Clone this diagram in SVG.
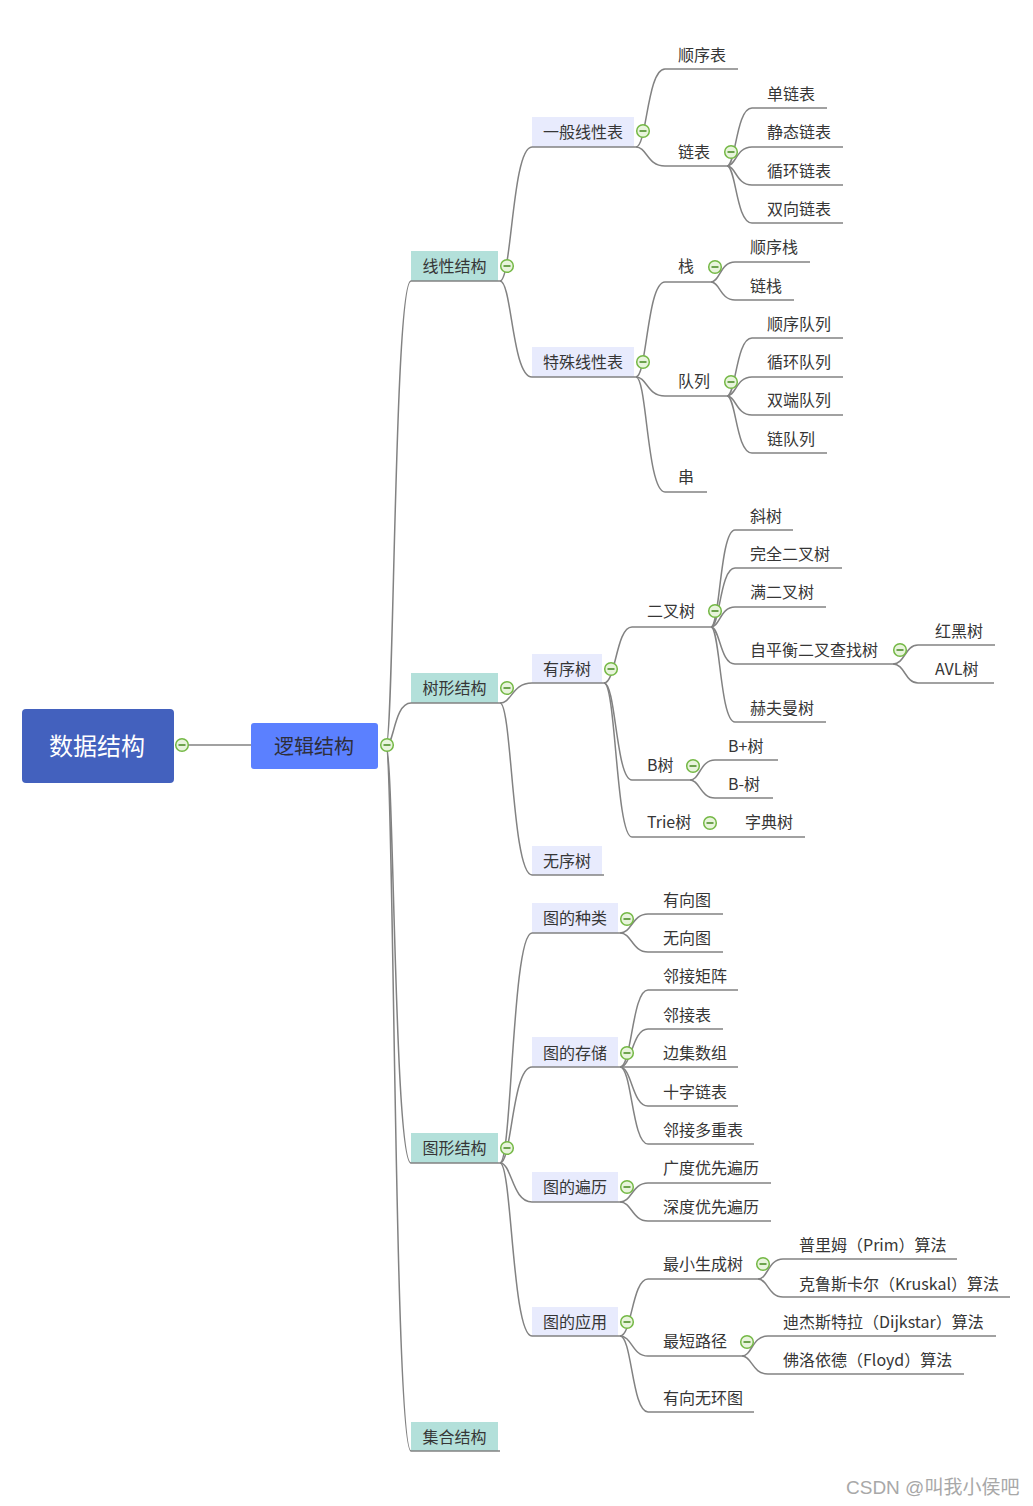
<svg xmlns="http://www.w3.org/2000/svg" width="1033" height="1506" viewBox="0 0 1033 1506">
  <style>
    .t { font-family: "Noto Sans CJK SC", "Microsoft YaHei", sans-serif; font-size: 16px; fill: #363636; dominant-baseline: central; transform: translateY(-1px); }
    .m { text-anchor: middle; }
    .c { fill: none; stroke: #828282; stroke-width: 1.5; }
    .ul { stroke: #828282; stroke-width: 1.5; }
    .b1 { fill: #b3e0da; }
    .b2 { fill: #e8ebfd; }
    .wm { font-family: "Liberation Sans", "Noto Sans CJK SC", sans-serif; font-size: 19px; fill: #a8a8a8; dominant-baseline: central; }
  </style>
  <defs>
    <g id="toggle">
      <circle r="6.3" fill="#e8f4dc" stroke="#74b845" stroke-width="1.5"/>
      <line x1="-3.5" y1="0" x2="3.5" y2="0" stroke="#4e8f2b" stroke-width="1.6"/>
    </g>
  </defs>

  <rect width="1033" height="1506" fill="#ffffff"/>

  <!-- curved branch connectors: parent anchor -> child underline start -->
  <g id="connectors">
    <line class="c" x1="175" y1="745" x2="251" y2="745"/>
    <!-- 逻辑结构 -->
    <path class="c" d="M386 746 C394 746 394 281 411 281"/>
    <path class="c" d="M386 746 C394 746 394 703 411 703"/>
    <path class="c" d="M386 746 C394 746 394 1163 411 1163"/>
    <path class="c" d="M386 746 C394 746 394 1451 411 1451"/>
    <!-- 线性结构 -->
    <path class="c" d="M500 281 C512 281 512 147 532 147"/>
    <path class="c" d="M500 281 C512 281 512 377 532 377"/>
    <!-- 一般线性表 -->
    <path class="c" d="M636 147 C647 147 647 69 665 69"/>
    <path class="c" d="M636 147 C647 147 647 166 665 166"/>
    <!-- 链表 -->
    <path class="c" d="M727 166 C736 166 736 108 752 108"/>
    <path class="c" d="M727 166 C736 166 736 147 752 147"/>
    <path class="c" d="M727 166 C736 166 736 185 752 185"/>
    <path class="c" d="M727 166 C736 166 736 223 752 223"/>
    <!-- 特殊线性表 -->
    <path class="c" d="M636 377 C647 377 647 282 665 282"/>
    <path class="c" d="M636 377 C647 377 647 396 665 396"/>
    <path class="c" d="M636 377 C647 377 647 492 665 492"/>
    <!-- 栈 -->
    <path class="c" d="M711 282 C720 282 720 262 735 262"/>
    <path class="c" d="M711 282 C720 282 720 300 735 300"/>
    <!-- 队列 -->
    <path class="c" d="M727 396 C736 396 736 338 752 338"/>
    <path class="c" d="M727 396 C736 396 736 377 752 377"/>
    <path class="c" d="M727 396 C736 396 736 415 752 415"/>
    <path class="c" d="M727 396 C736 396 736 453 752 453"/>
    <!-- 树形结构 -->
    <path class="c" d="M500 703 C512 703 512 683 532 683"/>
    <path class="c" d="M500 703 C512 703 512 875 532 875"/>
    <!-- 有序树 -->
    <path class="c" d="M604 683 C616 683 616 627 632 627"/>
    <path class="c" d="M604 683 C616 683 616 780 632 780"/>
    <path class="c" d="M604 683 C616 683 616 837 632 837"/>
    <!-- 二叉树 -->
    <path class="c" d="M711 627 C720 627 720 530 735 530"/>
    <path class="c" d="M711 627 C720 627 720 568 735 568"/>
    <path class="c" d="M711 627 C720 627 720 607 735 607"/>
    <path class="c" d="M711 627 C720 627 720 664 735 664"/>
    <path class="c" d="M711 627 C720 627 720 722 735 722"/>
    <!-- 自平衡二叉查找树 -->
    <path class="c" d="M893 664 C905 664 905 645 918 645"/>
    <path class="c" d="M893 664 C905 664 905 683 918 683"/>
    <!-- B树 -->
    <path class="c" d="M690 780 C700 780 700 760 715 760"/>
    <path class="c" d="M690 780 C700 780 700 798 715 798"/>
    <!-- Trie树 -->
    <line class="c" x1="706" y1="837" x2="730" y2="837"/>
    <!-- 图形结构 -->
    <path class="c" d="M500 1163 C512 1163 512 933 532 933"/>
    <path class="c" d="M500 1163 C512 1163 512 1067 532 1067"/>
    <path class="c" d="M500 1163 C512 1163 512 1202 532 1202"/>
    <path class="c" d="M500 1163 C512 1163 512 1336 532 1336"/>
    <!-- 图的种类 -->
    <path class="c" d="M620 933 C632 933 632 914 648 914"/>
    <path class="c" d="M620 933 C632 933 632 952 648 952"/>
    <!-- 图的存储 -->
    <path class="c" d="M620 1067 C632 1067 632 990 648 990"/>
    <path class="c" d="M620 1067 C632 1067 632 1029 648 1029"/>
    <path class="c" d="M620 1067 C632 1067 632 1067 648 1067"/>
    <path class="c" d="M620 1067 C632 1067 632 1106 648 1106"/>
    <path class="c" d="M620 1067 C632 1067 632 1144 648 1144"/>
    <!-- 图的遍历 -->
    <path class="c" d="M620 1202 C632 1202 632 1183 648 1183"/>
    <path class="c" d="M620 1202 C632 1202 632 1221 648 1221"/>
    <!-- 图的应用 -->
    <path class="c" d="M620 1336 C632 1336 632 1279 648 1279"/>
    <path class="c" d="M620 1336 C632 1336 632 1356 648 1356"/>
    <path class="c" d="M620 1336 C632 1336 632 1412 648 1412"/>
    <!-- 最小生成树 -->
    <path class="c" d="M758 1279 C768 1279 768 1259 783 1259"/>
    <path class="c" d="M758 1279 C768 1279 768 1297 783 1297"/>
    <!-- 最短路径 -->
    <path class="c" d="M742 1356 C752 1356 752 1336 768 1336"/>
    <path class="c" d="M742 1356 C752 1356 752 1374 768 1374"/>
  </g>

  <!-- central topic -->
  <g id="n-root">
    <rect x="22" y="709" width="152" height="74" rx="4" fill="#4361be"/>
    <text class="t m" x="97" y="745" style="font-size:24px;fill:#ffffff">数据结构</text>
    <use href="#toggle" x="182" y="745"/>
  </g>
  <g id="n-logic">
    <rect x="251" y="723" width="127" height="46" rx="3" fill="#5b80ff"/>
    <text class="t m" x="314" y="746" style="font-size:20px;fill:#2e2e3a">逻辑结构</text>
    <use href="#toggle" x="387" y="745"/>
  </g>

  <!-- 线性结构 branch -->
  <g id="n-linear">
    <rect class="b1" x="411" y="251" width="87" height="30"/>
    <line class="ul" x1="411" y1="281" x2="500" y2="281"/>
    <text class="t m" x="454.5" y="266">线性结构</text>
    <use href="#toggle" x="507" y="266"/>
  </g>
  <g id="n-general-list">
    <rect class="b2" x="532" y="117" width="102" height="30"/>
    <line class="ul" x1="532" y1="147" x2="636" y2="147"/>
    <text class="t m" x="583" y="132">一般线性表</text>
    <use href="#toggle" x="643" y="131"/>
  </g>
  <g id="n-seq-list">
    <line class="ul" x1="665" y1="69" x2="738" y2="69"/>
    <text class="t" x="678" y="55">顺序表</text>
  </g>
  <g id="n-linked-list">
    <line class="ul" x1="665" y1="166" x2="727" y2="166"/>
    <text class="t" x="678" y="152">链表</text>
    <use href="#toggle" x="731" y="152"/>
  </g>
  <g id="n-single-ll">
    <line class="ul" x1="752" y1="108" x2="827" y2="108"/>
    <text class="t" x="767" y="94">单链表</text>
  </g>
  <g id="n-static-ll">
    <line class="ul" x1="752" y1="147" x2="843" y2="147"/>
    <text class="t" x="767" y="132">静态链表</text>
  </g>
  <g id="n-circular-ll">
    <line class="ul" x1="752" y1="185" x2="843" y2="185"/>
    <text class="t" x="767" y="171">循环链表</text>
  </g>
  <g id="n-double-ll">
    <line class="ul" x1="752" y1="223" x2="843" y2="223"/>
    <text class="t" x="767" y="209">双向链表</text>
  </g>
  <g id="n-special-list">
    <rect class="b2" x="532" y="347" width="102" height="30"/>
    <line class="ul" x1="532" y1="377" x2="636" y2="377"/>
    <text class="t m" x="583" y="362">特殊线性表</text>
    <use href="#toggle" x="643" y="362"/>
  </g>
  <g id="n-stack">
    <line class="ul" x1="665" y1="282" x2="711" y2="282"/>
    <text class="t" x="678" y="266">栈</text>
    <use href="#toggle" x="715" y="267"/>
  </g>
  <g id="n-seq-stack">
    <line class="ul" x1="735" y1="262" x2="810" y2="262"/>
    <text class="t" x="750" y="247">顺序栈</text>
  </g>
  <g id="n-linked-stack">
    <line class="ul" x1="735" y1="300" x2="794" y2="300"/>
    <text class="t" x="750" y="286">链栈</text>
  </g>
  <g id="n-queue">
    <line class="ul" x1="665" y1="396" x2="727" y2="396"/>
    <text class="t" x="678" y="381">队列</text>
    <use href="#toggle" x="731" y="382"/>
  </g>
  <g id="n-seq-queue">
    <line class="ul" x1="752" y1="338" x2="843" y2="338"/>
    <text class="t" x="767" y="324">顺序队列</text>
  </g>
  <g id="n-circular-queue">
    <line class="ul" x1="752" y1="377" x2="843" y2="377"/>
    <text class="t" x="767" y="362">循环队列</text>
  </g>
  <g id="n-deque">
    <line class="ul" x1="752" y1="415" x2="843" y2="415"/>
    <text class="t" x="767" y="400">双端队列</text>
  </g>
  <g id="n-linked-queue">
    <line class="ul" x1="752" y1="453" x2="827" y2="453"/>
    <text class="t" x="767" y="439">链队列</text>
  </g>
  <g id="n-string">
    <line class="ul" x1="665" y1="492" x2="707" y2="492"/>
    <text class="t" x="678" y="477">串</text>
  </g>

  <!-- 树形结构 branch -->
  <g id="n-tree">
    <rect class="b1" x="411" y="673" width="87" height="30"/>
    <line class="ul" x1="411" y1="703" x2="500" y2="703"/>
    <text class="t m" x="454.5" y="688">树形结构</text>
    <use href="#toggle" x="507" y="688"/>
  </g>
  <g id="n-ordered-tree">
    <rect class="b2" x="532" y="654" width="70" height="29"/>
    <line class="ul" x1="532" y1="683" x2="604" y2="683"/>
    <text class="t m" x="567" y="669">有序树</text>
    <use href="#toggle" x="611" y="669"/>
  </g>
  <g id="n-binary-tree">
    <line class="ul" x1="632" y1="627" x2="711" y2="627"/>
    <text class="t" x="647" y="611">二叉树</text>
    <use href="#toggle" x="715" y="611"/>
  </g>
  <g id="n-skew-tree">
    <line class="ul" x1="735" y1="530" x2="793" y2="530"/>
    <text class="t" x="750" y="516">斜树</text>
  </g>
  <g id="n-complete-bt">
    <line class="ul" x1="735" y1="568" x2="842" y2="568"/>
    <text class="t" x="750" y="554">完全二叉树</text>
  </g>
  <g id="n-full-bt">
    <line class="ul" x1="735" y1="607" x2="826" y2="607"/>
    <text class="t" x="750" y="592">满二叉树</text>
  </g>
  <g id="n-balanced-bst">
    <line class="ul" x1="735" y1="664" x2="893" y2="664"/>
    <text class="t" x="750" y="650">自平衡二叉查找树</text>
    <use href="#toggle" x="900" y="650"/>
  </g>
  <g id="n-rb-tree">
    <line class="ul" x1="918" y1="645" x2="995" y2="645"/>
    <text class="t" x="935" y="631">红黑树</text>
  </g>
  <g id="n-avl-tree">
    <line class="ul" x1="918" y1="683" x2="994" y2="683"/>
    <text class="t" x="935" y="669">AVL树</text>
  </g>
  <g id="n-huffman-tree">
    <line class="ul" x1="735" y1="722" x2="826" y2="722"/>
    <text class="t" x="750" y="708">赫夫曼树</text>
  </g>
  <g id="n-b-tree">
    <line class="ul" x1="632" y1="780" x2="690" y2="780"/>
    <text class="t" x="647" y="765">B树</text>
    <use href="#toggle" x="693" y="766"/>
  </g>
  <g id="n-bplus-tree">
    <line class="ul" x1="715" y1="760" x2="778" y2="760"/>
    <text class="t" x="728" y="746">B+树</text>
  </g>
  <g id="n-bminus-tree">
    <line class="ul" x1="715" y1="798" x2="773" y2="798"/>
    <text class="t" x="728" y="784">B-树</text>
  </g>
  <g id="n-trie">
    <line class="ul" x1="632" y1="837" x2="706" y2="837"/>
    <text class="t" x="647" y="822">Trie树</text>
    <use href="#toggle" x="710" y="823"/>
  </g>
  <g id="n-dict-tree">
    <line class="ul" x1="730" y1="837" x2="805" y2="837"/>
    <text class="t" x="745" y="822">字典树</text>
  </g>
  <g id="n-unordered-tree">
    <rect class="b2" x="532" y="846" width="70" height="29"/>
    <line class="ul" x1="532" y1="875" x2="604" y2="875"/>
    <text class="t m" x="567" y="861">无序树</text>
  </g>

  <!-- 图形结构 branch -->
  <g id="n-graph">
    <rect class="b1" x="411" y="1133" width="87" height="30"/>
    <line class="ul" x1="411" y1="1163" x2="500" y2="1163"/>
    <text class="t m" x="454.5" y="1148">图形结构</text>
    <use href="#toggle" x="507" y="1148"/>
  </g>
  <g id="n-graph-kinds">
    <rect class="b2" x="532" y="903" width="86" height="30"/>
    <line class="ul" x1="532" y1="933" x2="620" y2="933"/>
    <text class="t m" x="575" y="918">图的种类</text>
    <use href="#toggle" x="627" y="919"/>
  </g>
  <g id="n-directed">
    <line class="ul" x1="648" y1="914" x2="723" y2="914"/>
    <text class="t" x="663" y="900">有向图</text>
  </g>
  <g id="n-undirected">
    <line class="ul" x1="648" y1="952" x2="723" y2="952"/>
    <text class="t" x="663" y="938">无向图</text>
  </g>
  <g id="n-graph-storage">
    <rect class="b2" x="532" y="1037" width="86" height="30"/>
    <line class="ul" x1="532" y1="1067" x2="620" y2="1067"/>
    <text class="t m" x="575" y="1053">图的存储</text>
    <use href="#toggle" x="627" y="1053"/>
  </g>
  <g id="n-adj-matrix">
    <line class="ul" x1="648" y1="990" x2="738" y2="990"/>
    <text class="t" x="663" y="976">邻接矩阵</text>
  </g>
  <g id="n-adj-list">
    <line class="ul" x1="648" y1="1029" x2="723" y2="1029"/>
    <text class="t" x="663" y="1015">邻接表</text>
  </g>
  <g id="n-edge-array">
    <line class="ul" x1="648" y1="1067" x2="738" y2="1067"/>
    <text class="t" x="663" y="1053">边集数组</text>
  </g>
  <g id="n-orthogonal-list">
    <line class="ul" x1="648" y1="1106" x2="738" y2="1106"/>
    <text class="t" x="663" y="1092">十字链表</text>
  </g>
  <g id="n-adj-multilist">
    <line class="ul" x1="648" y1="1144" x2="754" y2="1144"/>
    <text class="t" x="663" y="1130">邻接多重表</text>
  </g>
  <g id="n-graph-traversal">
    <rect class="b2" x="532" y="1172" width="86" height="30"/>
    <line class="ul" x1="532" y1="1202" x2="620" y2="1202"/>
    <text class="t m" x="575" y="1187">图的遍历</text>
    <use href="#toggle" x="627" y="1187"/>
  </g>
  <g id="n-bfs">
    <line class="ul" x1="648" y1="1183" x2="771" y2="1183"/>
    <text class="t" x="663" y="1168">广度优先遍历</text>
  </g>
  <g id="n-dfs">
    <line class="ul" x1="648" y1="1221" x2="771" y2="1221"/>
    <text class="t" x="663" y="1207">深度优先遍历</text>
  </g>
  <g id="n-graph-apps">
    <rect class="b2" x="532" y="1307" width="86" height="29"/>
    <line class="ul" x1="532" y1="1336" x2="620" y2="1336"/>
    <text class="t m" x="575" y="1322">图的应用</text>
    <use href="#toggle" x="627" y="1322"/>
  </g>
  <g id="n-mst">
    <line class="ul" x1="648" y1="1279" x2="758" y2="1279"/>
    <text class="t" x="663" y="1264">最小生成树</text>
    <use href="#toggle" x="763" y="1264"/>
  </g>
  <g id="n-prim">
    <line class="ul" x1="783" y1="1259" x2="957" y2="1259"/>
    <text class="t" x="799" y="1245">普里姆（Prim）算法</text>
  </g>
  <g id="n-kruskal">
    <line class="ul" x1="783" y1="1297" x2="1010" y2="1297"/>
    <text class="t" x="799" y="1284">克鲁斯卡尔（Kruskal）算法</text>
  </g>
  <g id="n-shortest-path">
    <line class="ul" x1="648" y1="1356" x2="742" y2="1356"/>
    <text class="t" x="663" y="1341">最短路径</text>
    <use href="#toggle" x="747" y="1342"/>
  </g>
  <g id="n-dijkstra">
    <line class="ul" x1="768" y1="1336" x2="996" y2="1336"/>
    <text class="t" x="783" y="1322">迪杰斯特拉（Dijkstar）算法</text>
  </g>
  <g id="n-floyd">
    <line class="ul" x1="768" y1="1374" x2="964" y2="1374"/>
    <text class="t" x="783" y="1360">佛洛依德（Floyd）算法</text>
  </g>
  <g id="n-dag">
    <line class="ul" x1="648" y1="1412" x2="754" y2="1412"/>
    <text class="t" x="663" y="1398">有向无环图</text>
  </g>

  <!-- 集合结构 -->
  <g id="n-set">
    <rect class="b1" x="411" y="1422" width="87" height="29"/>
    <line class="ul" x1="411" y1="1451" x2="500" y2="1451"/>
    <text class="t m" x="454.5" y="1437">集合结构</text>
  </g>

  <text class="wm" x="846" y="1487">CSDN @叫我小侯吧</text>
</svg>
